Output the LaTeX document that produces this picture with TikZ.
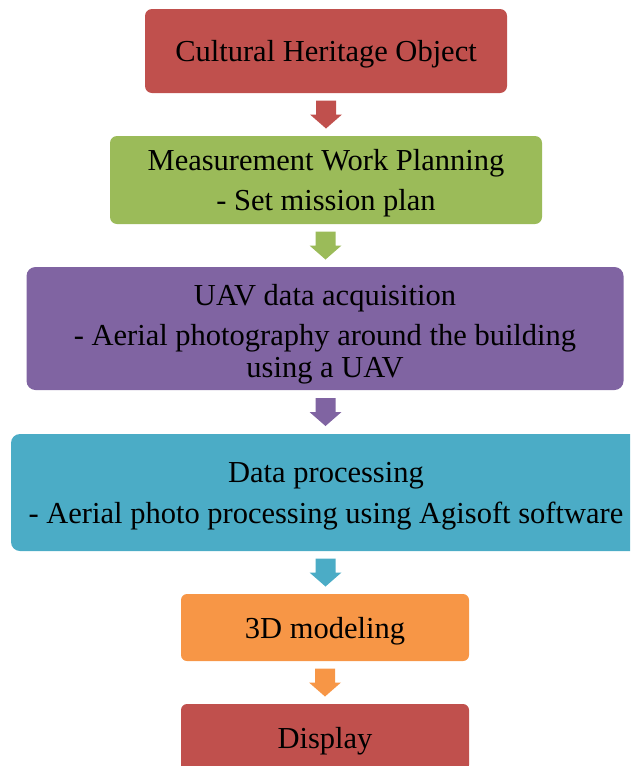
\documentclass[tikz,border=0pt]{standalone}
\usepackage{fontspec}
\setmainfont{Liberation Serif}
\usetikzlibrary{calc}
\definecolor{cred}{HTML}{C0504D}
\definecolor{cgreen}{HTML}{9BBB59}
\definecolor{cpurple}{HTML}{8064A2}
\definecolor{cteal}{HTML}{4BACC6}
\definecolor{corange}{HTML}{F79646}
\begin{document}
\begin{tikzpicture}[x=1pt,y=-1pt,
  box/.style={rounded corners=7pt, inner sep=0pt},
  boxtext/.style={inner sep=0pt, align=center, yshift=-3.5pt,
    font=\fontsize{30.5}{31}\selectfont, text=black},
  blockarrow/.style={fill=#1}
]
\useasboundingbox (0,0) rectangle (630,766);
\clip (0,0) rectangle (630,766);
\node[box, fill=cred, minimum width=362pt, minimum height=84pt,
  label={[boxtext]center:Cultural Heritage Object}] (b1) at (326,51) {};
\node[box, fill=cgreen, minimum width=432pt, minimum height=88pt,
  label={[boxtext]center:{Measurement Work Planning\\[9pt]- Set mission plan}}] (b2) at (326,180) {};
\node[box, fill=cpurple, minimum width=597pt, minimum height=123pt, rounded corners=9pt,
  label={[boxtext, yshift=-2pt, font=\fontsize{30.5}{32}\selectfont]center:{UAV data acquisition\\[8pt]- Aerial photography around the building\\using a UAV}}] (b3) at (325,328.5) {};
\node[box, fill=cteal, minimum width=630pt, minimum height=117pt, rounded corners=9pt,
  label={[boxtext]center:{Data processing\\[10pt]- Aerial photo processing using Agisoft software}}] (b4) at (326,492.5) {};
\node[box, fill=corange, minimum width=288pt, minimum height=67pt, rounded corners=6pt,
  label={[boxtext]center:3D modeling}] (b5) at (325,627.5) {};
\node[box, fill=cred, minimum width=288pt, minimum height=67pt, rounded corners=6pt,
  label={[boxtext]center:Display}] (b6) at (325,737.5) {};
\coordinate (a1) at ($(b1.south)!0.5!(b2.north)$);
\coordinate (a2) at ($(b2.south)!0.5!(b3.north)$);
\coordinate (a3) at ($(b3.south)!0.5!(b4.north)$);
\coordinate (a4) at ($(b4.south)!0.5!(b5.north)$);
\coordinate (a5) at ($(b5.south)!0.5!(b6.north)$);
\foreach \a/\c in {a1/cred,a2/cgreen,a3/cpurple,a4/cteal,a5/corange}{
  \fill[blockarrow=\c] (\a) ++(-10,-14) -- ++(20,0) -- ++(0,14) -- ++(6,0)
    -- ++(-16,14) -- ++(-16,-14) -- ++(6,0) -- cycle;
}
\end{tikzpicture}
\end{document}
